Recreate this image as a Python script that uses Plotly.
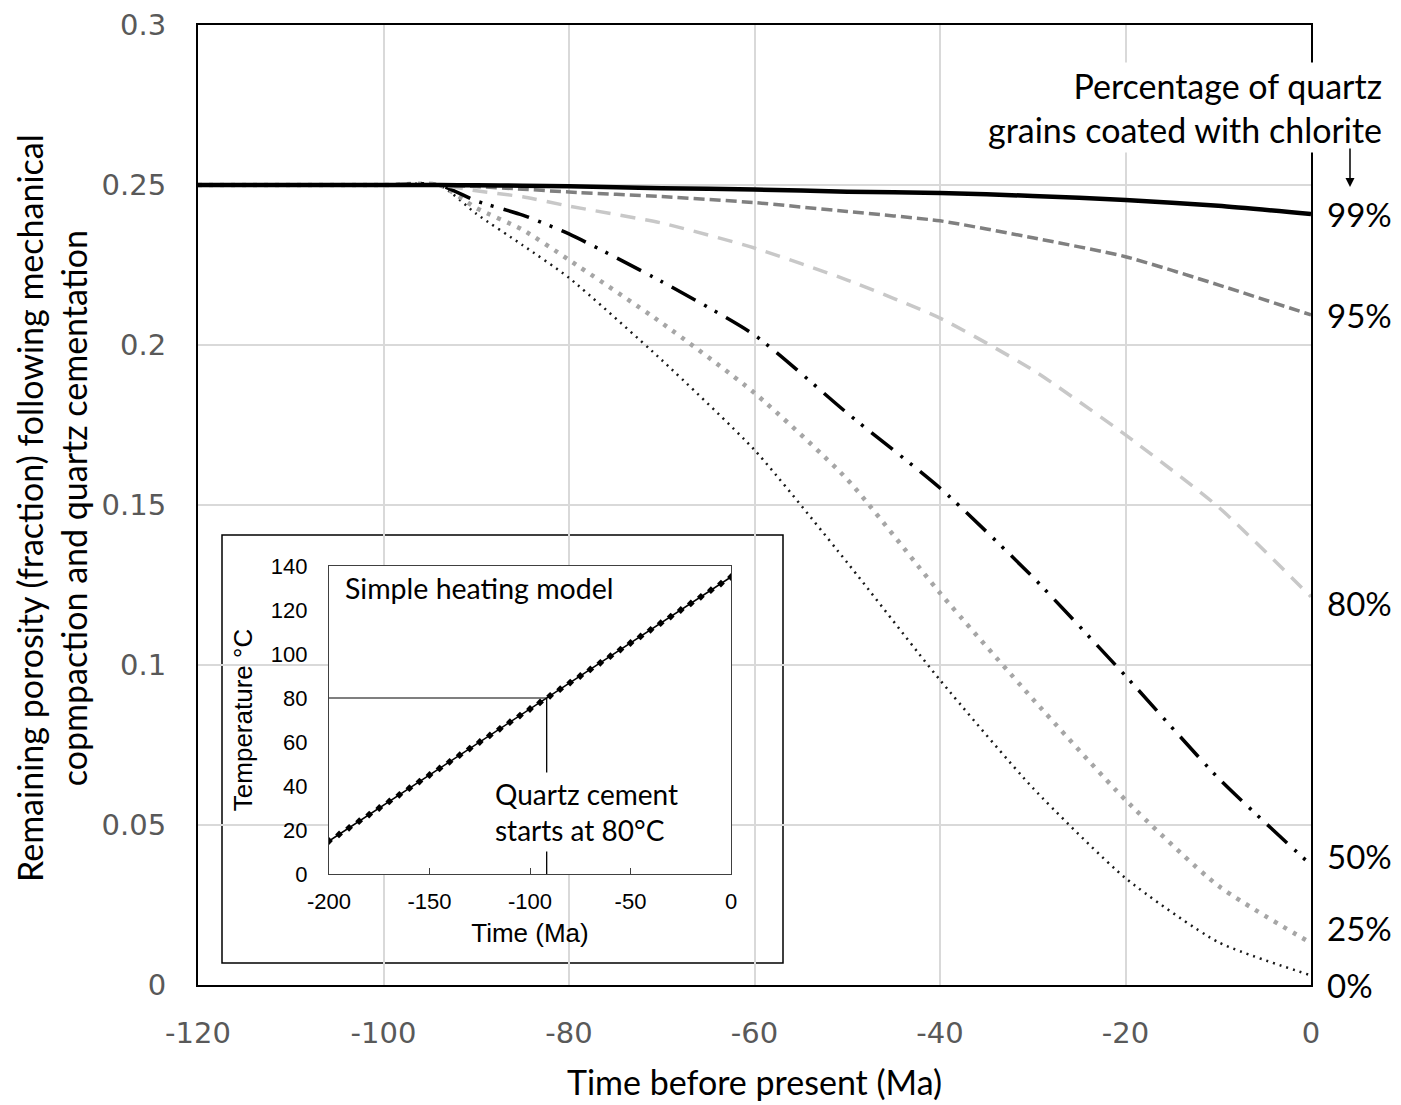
import plotly.graph_objects as go

# ---- main chart: remaining porosity through time -------------------------
time_ma = [-120, -100, -94, -90, -85, -80, -70, -60, -50, -40, -30, -20, -10, 0]

porosity_99 = [0.25, 0.25, 0.25, 0.2499, 0.2498, 0.2496, 0.2490, 0.2486, 0.2479, 0.2475, 0.2466, 0.2453, 0.2435, 0.2409]
porosity_95 = [0.25, 0.25, 0.25, 0.2495, 0.2487, 0.2478, 0.2464, 0.2445, 0.2417, 0.2388, 0.2335, 0.2276, 0.2188, 0.2094]
porosity_80 = [0.25, 0.25, 0.25, 0.2482, 0.2463, 0.2434, 0.2381, 0.2303, 0.2203, 0.2084, 0.1922, 0.1719, 0.1494, 0.1213]
porosity_50 = [0.25, 0.25, 0.25, 0.2450, 0.2406, 0.2347, 0.2198, 0.2031, 0.1787, 0.1553, 0.1275, 0.0966, 0.0647, 0.0375]
porosity_25 = [0.25, 0.25, 0.25, 0.2428, 0.2360, 0.2266, 0.2069, 0.1850, 0.1580, 0.1225, 0.0894, 0.0578, 0.0310, 0.0131]
porosity_0 = [0.25, 0.25, 0.25, 0.2410, 0.2312, 0.2210, 0.1953, 0.1672, 0.1320, 0.0953, 0.0616, 0.0334, 0.0134, 0.0030]

coating_labels = ["99%", "95%", "80%", "50%", "25%", "0%"]
coating_label_y = [0.2409, 0.2094, 0.1195, 0.0403, 0.0178, 0.0]

x_ticks = [-120, -100, -80, -60, -40, -20, 0]
x_tick_text = ["-120", "-100", "-80", "-60", "-40", "-20", "0"]
y_ticks = [0, 0.05, 0.1, 0.15, 0.2, 0.25, 0.3]
y_tick_text = ["0", "0.05", "0.1", "0.15", "0.2", "0.25", "0.3"]

# ---- inset: simple heating model ------------------------------------------
heat_time = [-200, -195, -190, -185, -180, -175, -170, -165, -160, -155,
             -150, -145, -140, -135, -130, -125, -120, -115, -110, -105,
             -100, -95, -90, -85, -80, -75, -70, -65, -60, -55,
             -50, -45, -40, -35, -30, -25, -20, -15, -10, -5, 0]
heat_temp = [15, 18, 21, 24, 27, 30, 33, 36, 39, 42,
             45, 48, 51, 54, 57, 60, 63, 66, 69, 72,
             75, 78, 81, 84, 87, 90, 93, 96, 99, 102,
             105, 108, 111, 114, 117, 120, 123, 126, 129, 132, 135]
cement_start_time = -91.7
cement_start_temp = 80
inset_x_ticks = [-200, -150, -100, -50, 0]
inset_x_tick_text = ["-200", "-150", "-100", "-50", "0"]
inset_y_ticks = [0, 20, 40, 60, 80, 100, 120, 140]

TEXT_FONT = "Lato"
TICK_FONT = "DejaVu Sans"
INSET_FONT = "Liberation Sans"

fig = go.Figure()

series = [
    (porosity_0, dict(color="#1a1a1a", width=2.5, dash="2px,5px")),
    (porosity_25, dict(color="#a6a6a6", width=4.5, dash="4px,7px")),
    (porosity_50, dict(color="#000000", width=3.5, dash="27px,10px,3px,9px,3px,10px")),
    (porosity_80, dict(color="#c8c8c8", width=3.5, dash="15px,10px")),
    (porosity_95, dict(color="#808080", width=3.5, dash="11px,5px")),
    (porosity_99, dict(color="#000000", width=4.5)),
]
for values, line in series:
    fig.add_trace(go.Scatter(
        x=time_ma, y=values, mode="lines",
        line=dict(shape="spline", smoothing=0.6, **line),
        xaxis="x", yaxis="y", showlegend=False, hoverinfo="skip",
    ))

# inset traces
fig.add_trace(go.Scatter(
    x=[heat_time[0], cement_start_time], y=[cement_start_temp, cement_start_temp],
    mode="lines", line=dict(color="#7f7f7f", width=2),
    xaxis="x2", yaxis="y2", showlegend=False, hoverinfo="skip",
))
fig.add_trace(go.Scatter(
    x=[cement_start_time, cement_start_time], y=[cement_start_temp, 0],
    mode="lines", line=dict(color="#000000", width=1.3),
    xaxis="x2", yaxis="y2", showlegend=False, hoverinfo="skip",
))
fig.add_trace(go.Scatter(
    x=heat_time, y=heat_temp, mode="lines+markers",
    line=dict(color="#000000", width=1.5),
    marker=dict(symbol="diamond", size=6, color="#000000"),
    xaxis="x2", yaxis="y2", showlegend=False, hoverinfo="skip",
))

# layout geometry (pixels)
W, H = 1401, 1105
L, R, T, B = 198, 90, 25, 120
pw, ph = W - L - R, H - T - B


def px_x(p):
    return (p - L) / pw


def px_y(p):
    return (H - B - p) / ph


frame = dict(showline=True, linecolor="#000000", linewidth=2, mirror=True)

fig.update_layout(
    width=W, height=H,
    margin=dict(l=L, r=R, t=T, b=B, autoexpand=False),
    paper_bgcolor="white", plot_bgcolor="white",
    xaxis=dict(
        range=[-120, 0], tickvals=x_ticks, ticktext=x_tick_text, ticks="", zeroline=False,
        showgrid=True, gridcolor="#d9d9d9", gridwidth=1.5, automargin=False,
        tickfont=dict(family=TICK_FONT, size=29, color="#595959"),
        ticklabelstandoff=21,
        title=dict(text="Time before present (Ma)", standoff=22,
                   font=dict(family=TEXT_FONT, size=34, color="#000000")),
        **frame,
    ),
    yaxis=dict(
        range=[0, 0.3], tickvals=y_ticks, ticktext=y_tick_text, ticks="", zeroline=False,
        showgrid=True, gridcolor="#d9d9d9", gridwidth=1.5, automargin=False,
        tickfont=dict(family=TICK_FONT, size=29, color="#595959"),
        ticklabelstandoff=24,
        **frame,
    ),
    xaxis2=dict(
        domain=[px_x(329), px_x(731)], anchor="y2", range=[-200, 0],
        tickvals=inset_x_ticks, ticktext=inset_x_tick_text,
        ticks="inside", ticklen=6, tickcolor="#404040",
        showgrid=False, zeroline=False, automargin=False,
        showline=True, mirror=True, linecolor="#404040", linewidth=1.2,
        tickfont=dict(family=INSET_FONT, size=22, color="#000000"),
        ticklabelstandoff=7,
        title=dict(text="Time (Ma)", standoff=11,
                   font=dict(family=INSET_FONT, size=26, color="#000000")),
    ),
    yaxis2=dict(
        domain=[px_y(874), px_y(566)], anchor="x2", range=[0, 140],
        tickvals=inset_y_ticks, ticks="", showgrid=False, zeroline=False, automargin=False,
        showline=True, mirror=True, linecolor="#404040", linewidth=1.2,
        tickfont=dict(family=INSET_FONT, size=22, color="#000000"),
        ticklabelstandoff=16,
        title=dict(text="Temperature °C", standoff=10,
                   font=dict(family=INSET_FONT, size=26, color="#000000")),
    ),
    yaxis3=dict(
        overlaying="y2", anchor="x2", side="right", range=[0, 140],
        tickvals=inset_y_ticks, ticks="inside", ticklen=6, tickcolor="#404040",
        showticklabels=False, showgrid=False, zeroline=False, showline=False,
        automargin=False,
    ),
)

# white inset panel over the main grid
fig.add_shape(
    type="rect", xref="paper", yref="paper",
    x0=px_x(222), x1=px_x(783), y0=px_y(963), y1=px_y(535),
    fillcolor="white", line=dict(color="#000000", width=1.5), layer="between",
)

annotations = []
# y axis title
annotations.append(dict(
    text="Remaining porosity (fraction) following mechanical<br>copmpaction and quartz cementation",
    xref="paper", yref="paper", x=px_x(51), y=px_y(508),
    xanchor="center", yanchor="middle", textangle=-90, showarrow=False,
    font=dict(family=TEXT_FONT, size=34, color="#000000"),
))
# series labels on the right
for label, yv in zip(coating_labels, coating_label_y):
    annotations.append(dict(
        text=label, xref="paper", yref="y", x=px_x(1325), y=yv,
        xanchor="left", yanchor="middle", showarrow=False,
        font=dict(family=TEXT_FONT, size=33, color="#000000"),
    ))
# legend heading with arrow
annotations.append(dict(
    text="Percentage of quartz<br>grains coated with chlorite",
    xref="paper", yref="paper", x=px_x(1385), y=px_y(107),
    xanchor="right", yanchor="middle", align="right", showarrow=False,
    bgcolor="white", borderpad=2,
    font=dict(family=TEXT_FONT, size=34, color="#000000"),
))
annotations.append(dict(
    text="", xref="paper", yref="paper", x=px_x(1350), y=px_y(187),
    ax=0, ay=-40, showarrow=True, arrowhead=2, arrowsize=1.2, arrowwidth=1.5,
    arrowcolor="#000000",
))
# inset texts
annotations.append(dict(
    text="Simple heating model", xref="x2", yref="y2", x=-193, y=130,
    xanchor="left", yanchor="middle", showarrow=False,
    font=dict(family=TEXT_FONT, size=28.5, color="#000000"),
))
annotations.append(dict(
    text="Quartz cement<br>starts at 80°C", xref="x2", yref="y2", x=-120, y=28,
    xanchor="left", yanchor="middle", align="left", showarrow=False,
    bgcolor="white", borderpad=4,
    font=dict(family=TEXT_FONT, size=28, color="#000000"),
))
fig.update_layout(annotations=annotations)

fig.write_html("out.html")
